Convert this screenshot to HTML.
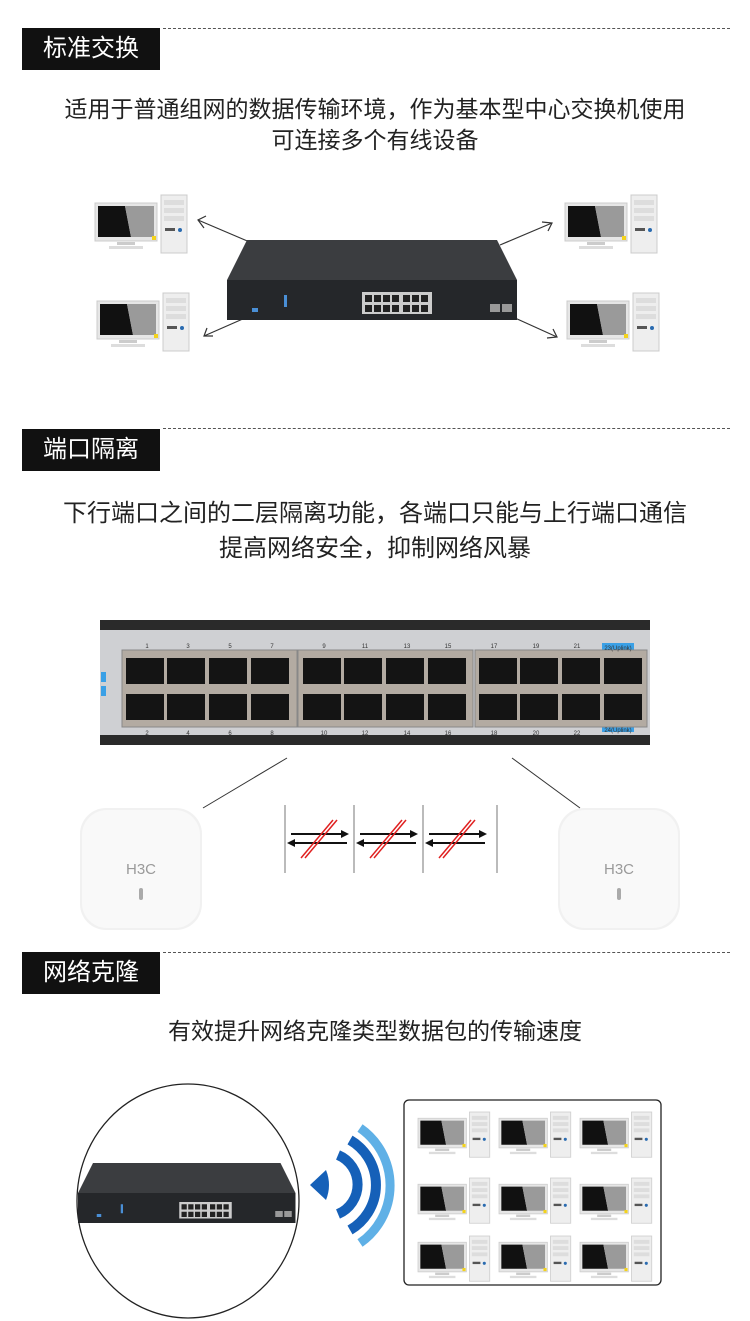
<!DOCTYPE html>
<html><head><meta charset="utf-8"><style>
body{margin:0;background:#fff;width:750px;height:1321px;overflow:hidden;position:relative;font-family:"Liberation Sans","Noto Sans CJK SC",sans-serif}
.hd{position:absolute;left:22px;width:138px;height:42px;background:#111;color:#fff;font-size:24px;line-height:42px;text-align:center}
.dash{position:absolute;left:163px;right:20px;border-top:1.5px dashed #555}
.t{position:absolute;left:0;width:750px;text-align:center;font-size:24px;color:#222;line-height:30px}
svg{position:absolute;left:0;top:0}
</style></head><body>
<div class="dash" style="top:28px"></div>
<div class="hd" style="top:28px">标准交换</div>
<div class="t" style="top:94px;font-size:23px">适用于普通组网的数据传输环境，作为基本型中心交换机使用</div>
<div class="t" style="top:125px;font-size:23px">可连接多个有线设备</div>
<div class="dash" style="top:428px"></div>
<div class="hd" style="top:429px">端口隔离</div>
<div class="t" style="top:499px">下行端口之间的二层隔离功能，各端口只能与上行端口通信</div>
<div class="t" style="top:534px">提高网络安全，抑制网络风暴</div>
<div class="dash" style="top:952px"></div>
<div class="hd" style="top:952px">网络克隆</div>
<div class="t" style="top:1016px;font-size:23px">有效提升网络克隆类型数据包的传输速度</div>

<svg width="750" height="1321" viewBox="0 0 750 1321">
<defs>
<g id="pc">
<rect x="0" y="8" width="62" height="38" fill="#e6e6e6" stroke="#ccc"/>
<polygon points="3,11 30,11 36,42 3,42" fill="#111"/>
<polygon points="30,11 59,11 59,42 36,42" fill="#9a9a9a"/>
<rect x="22" y="47" width="18" height="3" fill="#ccc"/>
<rect x="14" y="51" width="34" height="3" fill="#ddd"/>
<rect x="57" y="41" width="4" height="4" fill="#f3d21c"/>
<rect x="66" y="0" width="26" height="58" fill="#eee" stroke="#ccc"/>
<rect x="69" y="5" width="20" height="5" fill="#ddd"/>
<rect x="69" y="13" width="20" height="5" fill="#ddd"/>
<rect x="69" y="21" width="20" height="5" fill="#ddd"/>
<rect x="70" y="33" width="10" height="3" fill="#555"/>
<circle cx="85" cy="35" r="2" fill="#2a6bb0"/>
</g>
<g id="sw">
<polygon points="20,0 270,0 290,40 0,40" fill="#3b3d40"/>
<rect x="0" y="40" width="290" height="40" fill="#25272a"/>
<rect x="135" y="52" width="70" height="22" fill="#ccc"/>
<g fill="#222"><rect x="138" y="55" width="7" height="7"/><rect x="147" y="55" width="7" height="7"/><rect x="156" y="55" width="7" height="7"/><rect x="165" y="55" width="7" height="7"/><rect x="176" y="55" width="7" height="7"/><rect x="185" y="55" width="7" height="7"/><rect x="194" y="55" width="7" height="7"/>
<rect x="138" y="65" width="7" height="7"/><rect x="147" y="65" width="7" height="7"/><rect x="156" y="65" width="7" height="7"/><rect x="165" y="65" width="7" height="7"/><rect x="176" y="65" width="7" height="7"/><rect x="185" y="65" width="7" height="7"/><rect x="194" y="65" width="7" height="7"/></g>
<rect x="263" y="64" width="10" height="8" fill="#999"/><rect x="275" y="64" width="10" height="8" fill="#999"/>
<rect x="25" y="68" width="6" height="4" fill="#4a8fd6"/><rect x="57" y="55" width="3" height="12" fill="#4a8fd6"/>
</g>
<g id="ap">
<rect x="0" y="0" width="122" height="122" rx="26" fill="#f1f1f1"/>
<rect x="2" y="2" width="118" height="118" rx="25" fill="#f9f9f9"/>
<text x="61" y="66" font-size="15" fill="#9a9a9a" text-anchor="middle" font-family="Liberation Sans">H3C</text>
<rect x="59" y="80" width="4" height="12" rx="2" fill="#aaa"/>
</g>
<g id="iso">
<line x1="0" y1="0" x2="0" y2="68" stroke="#777"/>
<line x1="6" y1="29" x2="58" y2="29" stroke="#111" stroke-width="2"/><polygon points="64,29 56,25 56,33" fill="#111"/>
<line x1="10" y1="38" x2="62" y2="38" stroke="#111" stroke-width="2"/><polygon points="2,38 10,34 10,42" fill="#111"/>
<line x1="16" y1="53" x2="48" y2="15" stroke="#e02020" stroke-width="1.5"/><line x1="20" y1="53" x2="52" y2="15" stroke="#e02020" stroke-width="1.5"/>
</g>
</defs>

<use href="#pc" x="95" y="195"/>
<use href="#pc" x="97" y="293"/>
<use href="#pc" x="565" y="195"/>
<use href="#pc" x="567" y="293"/>
<g stroke="#333" stroke-width="1.2" fill="none">
<line x1="252" y1="243" x2="198" y2="220"/><polyline points="206,216 198,220 204,228"/>
<line x1="500" y1="245" x2="552" y2="223"/><polyline points="542,222 552,223 548,231"/>
<line x1="245" y1="318" x2="204" y2="336"/><polyline points="207,328 204,336 213,336"/>
<line x1="515" y1="318" x2="557" y2="337"/><polyline points="547,338 557,337 553,329"/>
</g>
<use href="#sw" x="227" y="240"/>

<rect x="100" y="620" width="550" height="10" fill="#2a2a2a"/>
<rect x="100" y="630" width="550" height="105" fill="#cfd0d3"/>
<rect x="100" y="735" width="550" height="10" fill="#2a2a2a"/>
<rect x="101" y="672" width="5" height="10" fill="#3aa0e6"/><rect x="101" y="686" width="5" height="10" fill="#3aa0e6"/>
<rect x="602" y="643" width="32" height="8" fill="#3aa0e6"/><rect x="602" y="724" width="32" height="8" fill="#3aa0e6"/>
<g fill="#b3aba2" stroke="#888"><rect x="122" y="650" width="175" height="77"/><rect x="298" y="650" width="175" height="77"/><rect x="475" y="650" width="172" height="77"/></g>
<g fill="#141414" id="prt">
<rect x="126" y="658" width="38" height="26"/><rect x="167" y="658" width="38" height="26"/><rect x="209" y="658" width="38" height="26"/><rect x="251" y="658" width="38" height="26"/>
<rect x="126" y="694" width="38" height="26"/><rect x="167" y="694" width="38" height="26"/><rect x="209" y="694" width="38" height="26"/><rect x="251" y="694" width="38" height="26"/>
</g>
<use href="#prt" x="177" y="0"/>
<use href="#prt" x="353" y="0"/>
<g font-size="6" fill="#333" text-anchor="middle" font-family="Liberation Sans">
<text x="147" y="648">1</text><text x="188" y="648">3</text><text x="230" y="648">5</text><text x="272" y="648">7</text>
<text x="324" y="648">9</text><text x="365" y="648">11</text><text x="407" y="648">13</text><text x="448" y="648">15</text>
<text x="494" y="648">17</text><text x="536" y="648">19</text><text x="577" y="648">21</text><text x="618" y="650">23(Uplink)</text>
<text x="147" y="735">2</text><text x="188" y="735">4</text><text x="230" y="735">6</text><text x="272" y="735">8</text>
<text x="324" y="735">10</text><text x="365" y="735">12</text><text x="407" y="735">14</text><text x="448" y="735">16</text>
<text x="494" y="735">18</text><text x="536" y="735">20</text><text x="577" y="735">22</text><text x="618" y="732">24(Uplink)</text>
</g>
<line x1="287" y1="758" x2="203" y2="808" stroke="#333"/>
<line x1="512" y1="758" x2="580" y2="808" stroke="#333"/>
<use href="#ap" x="80" y="808"/>
<use href="#ap" x="558" y="808"/>
<use href="#iso" x="285" y="805"/>
<use href="#iso" x="354" y="805"/>
<use href="#iso" x="423" y="805"/>
<line x1="497" y1="805" x2="497" y2="873" stroke="#777"/>

<ellipse cx="188" cy="1201" rx="111" ry="117" fill="#fff" stroke="#222" stroke-width="1.3"/>
<g transform="translate(78,1163) scale(0.75)"><use href="#sw" x="0" y="0"/></g>
<g fill="none" stroke-linecap="butt">
<path d="M338,1155 A32,32 0 0 1 338,1214" stroke="#1560b8" stroke-width="10"/>
<path d="M350,1140 A52,52 0 0 1 350,1230" stroke="#1560b8" stroke-width="10"/>
<path d="M360,1128 A70,70 0 0 1 360,1243" stroke="#5fb0e6" stroke-width="9"/>
</g>
<path d="M310,1185 L326,1170 Q332,1185 326,1200 Z" fill="#1560b8"/>
<rect x="404" y="1100" width="257" height="185" rx="5" fill="#fff" stroke="#222" stroke-width="1.3"/>
<g transform="translate(418,1112) scale(0.78)"><use href="#pc"/></g>
<g transform="translate(499,1112) scale(0.78)"><use href="#pc"/></g>
<g transform="translate(580,1112) scale(0.78)"><use href="#pc"/></g>
<g transform="translate(418,1178) scale(0.78)"><use href="#pc"/></g>
<g transform="translate(499,1178) scale(0.78)"><use href="#pc"/></g>
<g transform="translate(580,1178) scale(0.78)"><use href="#pc"/></g>
<g transform="translate(418,1236) scale(0.78)"><use href="#pc"/></g>
<g transform="translate(499,1236) scale(0.78)"><use href="#pc"/></g>
<g transform="translate(580,1236) scale(0.78)"><use href="#pc"/></g>
</svg>
</body></html>
